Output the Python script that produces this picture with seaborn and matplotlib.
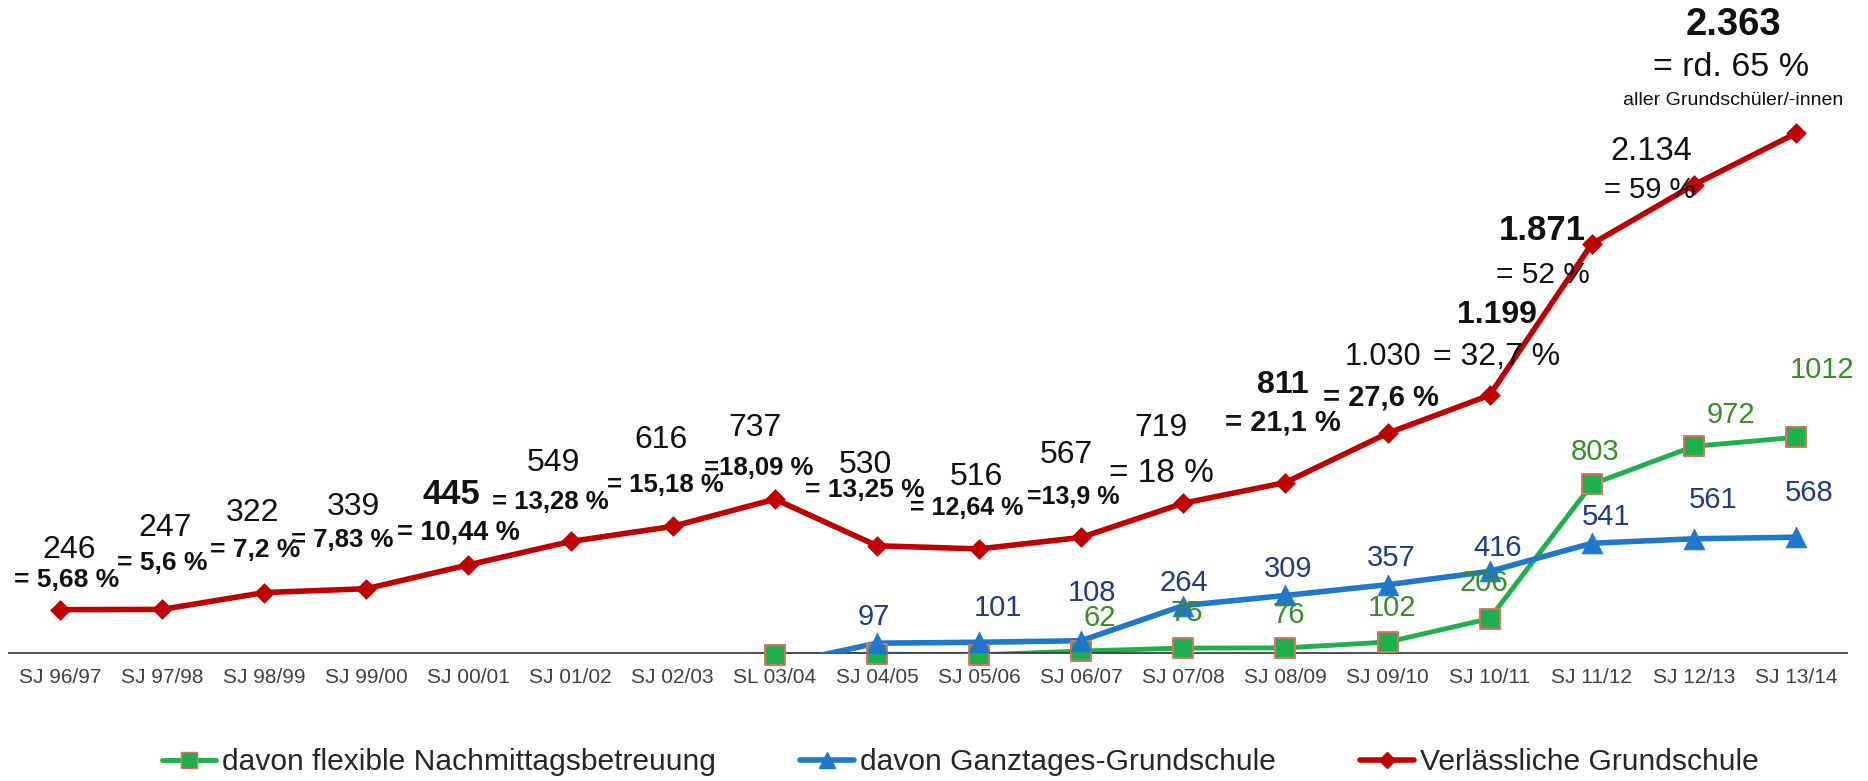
import numpy as np
import matplotlib
matplotlib.use("Agg")
import matplotlib.pyplot as plt
import seaborn as sns
from matplotlib.lines import Line2D

sns.set_style("white")
plt.rcParams['font.family'] = ['Liberation Sans', 'DejaVu Sans']

# school years
years = ['SJ 96/97', 'SJ 97/98', 'SJ 98/99', 'SJ 99/00', 'SJ 00/01', 'SJ 01/02',
         'SJ 02/03', 'SL 03/04', 'SJ 04/05', 'SJ 05/06', 'SJ 06/07', 'SJ 07/08',
         'SJ 08/09', 'SJ 09/10', 'SJ 10/11', 'SJ 11/12', 'SJ 12/13', 'SJ 13/14']

verlaesslich = [246, 247, 322, 339, 445, 549, 616, 737, 530, 516, 567, 719,
                811, 1030, 1199, 1871, 2134, 2363]
ganztag = [np.nan] * 7 + [0, 97, 101, 108, 264, 309, 357, 416, 541, 561, 568]
flexibel = [np.nan] * 6 + [0, 44, 48, 45, 62, 75, 76, 102, 206, 803, 972, 1012]

red_num = ['246', '247', '322', '339', '445', '549', '616', '737', '530', '516', '567',
           '719', '811', '1.030', '1.199', '1.871', '2.134', '2.363']
red_pct = ['= 5,68 %', '= 5,6 %', '= 7,2 %', '= 7,83 %', '= 10,44 %', '= 13,28 %',
           '= 15,18 %', '=18,09 %', '= 13,25 %', '= 12,64 %', '=13,9 %', '= 18 %',
           '= 21,1 %', '= 27,6 %', '= 32,7 %', '= 52 %', '= 59 %', '= rd. 65 %']

# label layout (offsets in pixels from the marker, size, bold)
red_num_off = [(9, 60), (3, 81), (-12, 80), (-13, 82), (-17, 70), (-17, 78), (-12, 86),
               (-20, 71), (-12, 81), (-3, 72), (-15, 82), (-22, 75), (-3, 98), (-5, 76),
               (7, 80), (-49, 14), (-43, 33), (-63, 108)]
red_num_fmt = [(23, False)] * 4 + [(25, True)] + [(23, False)] * 7 + \
              [(23, True), (22, False), (23, True), (25, True), (23.5, False), (27.5, True)]
red_pct_off = [(7, 30), (0, 46), (-9, 43), (-24, 49), (-10, 32), (-20, 39), (-7, 41),
               (-16, 31), (-12, 56), (-12, 41), (-8, 40), (-22, 30), (-3, 60), (-7, 36),
               (7, 38), (-49, -31), (-44, -5), (-65, 66)]
red_pct_fmt = [(19, True)] * 3 + [(18.5, True), (19.5, True), (18.5, True), (18.5, True),
                                  (18.5, True), (19, True), (18, True), (18, True)] + \
              [(24, False), (21, True), (21, True), (23, False), (21.5, False),
               (21, False), (24.5, False)]
blue_off = [(-3, 26), (19, 34), (11, 48), (1, 23), (3, 26), (4, 27), (8, 23),
            (14, 26), (19, 39), (13, 44)]
green_off = [(36, 8), (34, 17), (27, 14), (19, 33), (3, 35), (3, 33), (4, 34),
             (-6, 36), (3, 32), (37, 31), (26, 67)]

RED = '#C00000'
BLUE = '#1F78CC'
GREEN = '#1DB04C'
GREEN_EDGE = '#E0705F'
BLUE_TXT = '#1F3C80'
GREEN_TXT = '#3A8C2A'

x = np.arange(len(years))

fig = plt.figure(figsize=(18.68, 7.81), dpi=100)
ax = fig.add_axes([9 / 1868, 128 / 781, 1838 / 1868, 653 / 781])

sns.lineplot(x=x, y=flexibel, color=GREEN, linewidth=3.5, ax=ax, zorder=2, errorbar=None)
sns.lineplot(x=x, y=ganztag, color=BLUE, linewidth=4, ax=ax, zorder=3, errorbar=None)
sns.lineplot(x=x, y=verlaesslich, color=RED, linewidth=4, ax=ax, zorder=5, errorbar=None)

g = np.array(flexibel)
b = np.array(ganztag)
gm = np.nan_to_num(g) > 0
bm = np.nan_to_num(b) > 0
sns.scatterplot(x=x[gm], y=g[gm], marker='s', s=14 ** 2, color=GREEN, edgecolor=GREEN_EDGE,
                linewidth=1.4, clip_on=False, zorder=4, ax=ax, legend=False)
sns.scatterplot(x=x[bm], y=b[bm], marker='^', s=15 ** 2, color=BLUE, edgecolor=BLUE,
                linewidth=0.5, clip_on=False, zorder=4.5, ax=ax, legend=False)
sns.scatterplot(x=x, y=verlaesslich, marker='D', s=10 ** 2, color=RED, edgecolor=RED,
                linewidth=0.5, clip_on=False, zorder=6, ax=ax, legend=False)

for i, v in enumerate(verlaesslich):
    size, bold = red_num_fmt[i]
    ax.annotate(red_num[i], (i, v), xytext=red_num_off[i], textcoords='offset pixels',
                ha='center', va='center', fontsize=size,
                fontweight='bold' if bold else 'normal', color='#111111', zorder=8)
    size, bold = red_pct_fmt[i]
    ax.annotate(red_pct[i], (i, v), xytext=red_pct_off[i], textcoords='offset pixels',
                ha='center', va='center', fontsize=size,
                fontweight='bold' if bold else 'normal', color='#111111', zorder=8)
ax.annotate('aller Grundschüler/-innen', (17, verlaesslich[17]), xytext=(-63, 33),
            textcoords='offset pixels', ha='center', va='center', fontsize=14, color='#111111')

for k, i in enumerate(x[bm]):
    ax.annotate(f'{int(b[i])}', (i, b[i]), xytext=blue_off[k], textcoords='offset pixels',
                ha='center', va='center', fontsize=21, color=BLUE_TXT, zorder=8)
for k, i in enumerate(x[gm]):
    ax.annotate(f'{int(g[i])}', (i, g[i]), xytext=green_off[k], textcoords='offset pixels',
                ha='center', va='center', fontsize=21, color=GREEN_TXT, zorder=8)

ax.set_xlim(-0.5, len(years) - 0.5)
ax.set_ylim(53.3, 2955.6)
ax.set_yticks([])
ax.set_xticks(x)
ax.set_xticklabels(years, fontsize=15, color='#404040')
ax.set_xticks(np.arange(-0.5, len(years), 1), minor=True)
ax.tick_params(axis='x', which='major', length=0, pad=11)
ax.tick_params(axis='x', which='minor', length=6, width=1.2, color='#404040', direction='out')
for s in ['left', 'top', 'right']:
    ax.spines[s].set_visible(False)
ax.spines['bottom'].set_color('#404040')
ax.spines['bottom'].set_linewidth(1.3)
ax.set_xlabel('')
ax.set_ylabel('')

handles = [
    Line2D([], [], color=GREEN, lw=3.5, marker='s', ms=11, mfc=GREEN, mec=GREEN_EDGE),
    Line2D([], [], color=BLUE, lw=4, marker='^', ms=12, mfc=BLUE, mec=BLUE),
    Line2D([], [], color=RED, lw=4, marker='D', ms=8, mfc=RED, mec=RED),
]
labels = ['davon flexible Nachmittagsbetreuung', 'davon Ganztages-Grundschule',
          'Verlässliche Grundschule']
fig.legend(handles, labels, loc='center', bbox_to_anchor=(960 / 1868, 19 / 781), ncol=3,
           frameon=False, fontsize=21.6, handlelength=1.8, handletextpad=0.2,
           columnspacing=2.8, borderaxespad=0)

fig.savefig('out.png', dpi=100)
